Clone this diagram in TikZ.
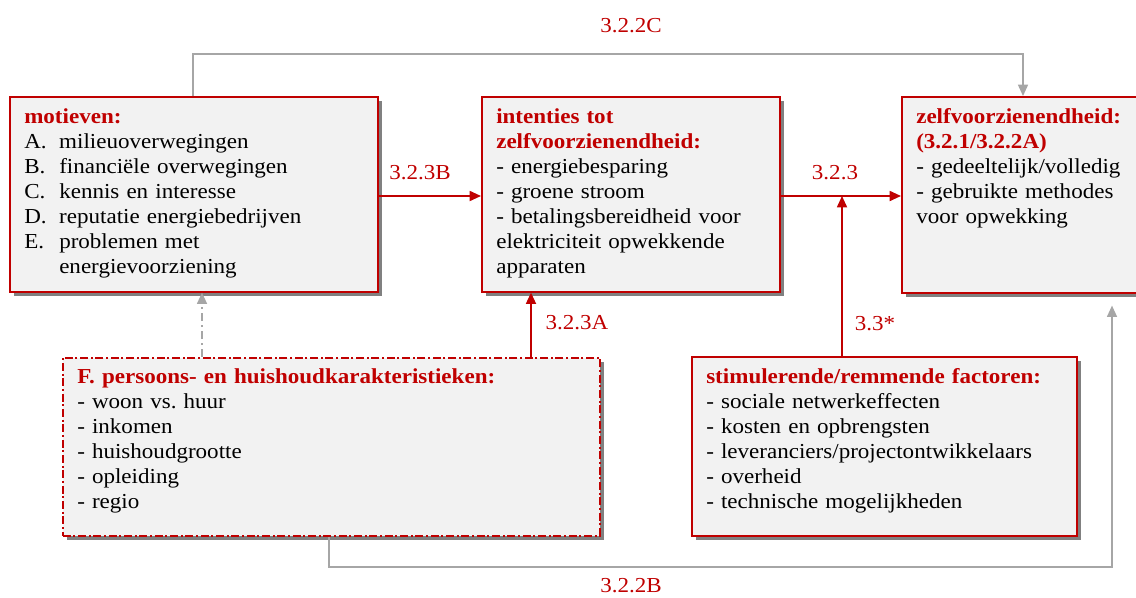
\documentclass[tikz,border=0pt]{standalone}
\usepackage{fontspec}
\setmainfont[FakeStretch=1.08]{Liberation Serif}
\usetikzlibrary{arrows.meta}
\definecolor{dred}{HTML}{C00000}
\definecolor{boxfill}{HTML}{F2F2F2}
\definecolor{shad}{HTML}{808080}
\definecolor{conn}{HTML}{A6A6A6}
\newcommand{\itm}[1]{\makebox[26.25pt][l]{#1}}
\begin{document}
\begin{tikzpicture}[x=0.75pt,y=-0.75pt,
  box/.style={draw=dred, line width=1.2pt, fill=boxfill, rectangle, anchor=north west, inner sep=0pt,
    preaction={fill=shad, transform canvas={shift={(4,4)}}}},
  dashbox/.style={box, dash pattern=on 6pt off 2pt on 1.5pt off 2pt},
  txt/.style={anchor=base west, inner sep=0pt, text width=420pt, align=left,
    font=\fontsize{16pt}{18.75pt}\selectfont},
  lbl/.style={text=dred, inner sep=0pt, font=\fontsize{16pt}{18.75pt}\selectfont},
  connR/.style={draw=dred, line width=1.3pt, -{Triangle[length=8.5pt,width=7.5pt]}},
  connG/.style={draw=conn, line width=1.1pt, -{Triangle[length=8.5pt,width=7.5pt]}},
  connGd/.style={connG, dash pattern=on 6pt off 3pt on 1.5pt off 3pt}
]
\useasboundingbox (0,0) rectangle (1136,597);
% boxes
\node[box, minimum width=368*0.75pt, minimum height=195*0.75pt] (mot) at (9,96) {};
\node[box, minimum width=298*0.75pt, minimum height=195*0.75pt] (int) at (481,96) {};
\node[box, minimum width=250*0.75pt, minimum height=196*0.75pt] (zelf) at (901,96) {};
\node[dashbox, minimum width=537*0.75pt, minimum height=178*0.75pt] (F) at (62,357) {};
\node[box, minimum width=385*0.75pt, minimum height=179*0.75pt] (stim) at (691,356) {};
% texts
\node[txt] (motT) at (24,123) {{\color{dred}\bfseries motieven:}\\
\itm{A.}milieuoverwegingen\\
\itm{B.}financiële overwegingen\\
\itm{C.}kennis en interesse\\
\itm{D.}reputatie energiebedrijven\\
\itm{E.}problemen met\\
\itm{}energievoorziening};
\node[txt] (intT) at (496,123) {{\color{dred}\bfseries intenties tot}\\
{\color{dred}\bfseries zelfvoorzienendheid:}\\
- energiebesparing\\
- groene stroom\\
- betalingsbereidheid voor\\
elektriciteit opwekkende\\
apparaten};
\node[txt] (zelfT) at (916,123) {{\color{dred}\bfseries zelfvoorzienendheid:}\\
{\color{dred}\bfseries (3.2.1/3.2.2A)}\\
- gedeeltelijk/volledig\\
- gebruikte methodes\\
voor opwekking};
\node[txt] (FT) at (77,383.5) {{\color{dred}\bfseries F. persoons- en huishoudkarakteristieken:}\\
- woon vs.\ huur\\
- inkomen\\
- huishoudgrootte\\
- opleiding\\
- regio};
\node[txt] (stimT) at (706,383.5) {{\color{dred}\bfseries stimulerende/remmende factoren:}\\
- sociale netwerkeffecten\\
- kosten en opbrengsten\\
- leveranciers/projectontwikkelaars\\
- overheid\\
- technische mogelijkheden};
% connector helper coordinates
\coordinate (c1) at (193,54);
\coordinate (c2) at (1023,54);
\coordinate (ya) at (0,196);
\coordinate (j) at (842,196);
\coordinate (xa) at (531,0);
\coordinate (xd) at (202,0);
\coordinate (c3) at (329,567);
\coordinate (c4) at (1112,567);
% connectors
\draw[connG] (mot.north -| c1) -- (c1) -- (c2) -- (zelf.north -| c2);
\draw[connR] (mot.east |- ya) -- (int.west |- ya);
\draw[connR] (int.east |- ya) -- (zelf.west |- ya);
\draw[connR] (stim.north -| j) -- (j);
\draw[connR] (F.north -| xa) -- (int.south -| xa);
\draw[connGd] (F.north -| xd) -- (mot.south -| xd);
\draw[connG, shorten >=9pt] (F.south -| c3) -- (c3) -- (c4) -- (zelf.south -| c4);
% labels
\node[lbl] (l1) at (631,26) {3.2.2C};
\node[lbl] (l2) at (420,173) {3.2.3B};
\node[lbl] (l3) at (835,173) {3.2.3};
\node[lbl] (l4) at (577,323) {3.2.3A};
\node[lbl] (l5) at (875,324) {3.3*};
\node[lbl] (l6) at (631,586) {3.2.2B};
\end{tikzpicture}
\end{document}
